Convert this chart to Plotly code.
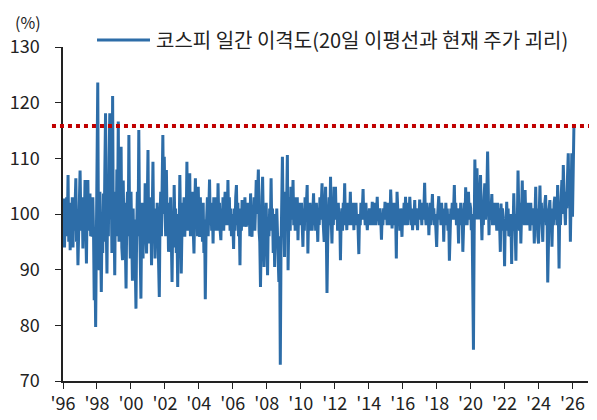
import plotly.graph_objects as go
import pandas as pd

# KOSPI daily disparity (price vs 20-day moving average, %), sampled ~24 points per year
disparity = [
    # 1996
    97, 102.8, 94, 101, 96, 103, 98, 107.0, 95, 102, 93.5, 100, 96, 103, 94, 101, 97, 104, 106.4, 95, 99, 90.8, 98, 103,
    # 1997
    107.8, 100, 97, 103, 93.8, 101, 98, 106.1, 95, 91.1, 102, 106.1, 97, 100, 103.7, 96, 101, 95.9, 103, 97, 84.5, 92, 79.7, 95,
    # 1998
    110, 123.6, 95, 89.9, 104, 97, 86, 99, 93, 103.7, 95, 108, 118.1, 98, 89.3, 104, 96, 110, 118.1, 99, 106, 93, 121.2, 97,
    # 1999
    100, 89, 104, 96, 108, 99, 116.6, 95, 103, 98, 112.1, 94, 91.7, 106, 97, 102, 95, 86.6, 100, 104, 96, 114.2, 99, 92,
    # 2000
    104, 95, 88, 101, 93, 99, 90, 83.0, 97, 104, 96, 115.1, 100, 93, 84.8, 98, 102, 92, 100, 95, 105.5, 97, 92.9, 101.9,
    # 2001
    111.5, 94.7, 103, 97, 100, 90.8, 98, 109.4, 96, 101, 92, 99, 95, 102, 97, 93, 85.1, 99, 104, 96, 106, 114.2, 100, 110.3,
    # 2002
    101, 96, 107.9, 99, 102, 93.2, 100, 97, 103, 95, 87.8, 99, 94, 105.2, 98, 101, 93, 97, 86.9, 100, 95, 107, 98, 89.3,
    # 2003
    97, 102, 99, 103, 95.9, 101, 98, 109.4, 97, 103, 99, 107.3, 96, 102, 98, 104, 97, 92.9, 101, 106.4, 98, 103, 96, 104.9,
    # 2004
    99, 95.9, 103, 97, 101, 95, 102, 93, 99, 84.7, 96, 101, 103, 96, 100, 106.2, 98, 102, 97, 101, 94.7, 103, 99, 97,
    # 2005
    100, 103, 97, 105.5, 99, 102, 97, 95.3, 101, 98, 103, 97, 101, 104, 98, 102, 99, 106.1, 98, 103, 97, 101, 96, 100,
    # 2006
    98, 93.7, 101, 97, 103, 105.2, 98, 102, 96, 99, 90.8, 101, 97, 102.5, 98, 101, 97.7, 103, 99, 97.7, 102, 98, 101, 102,
    # 2007
    96, 103.7, 98, 95.9, 101, 99, 103, 97, 101, 106.1, 100, 104, 108, 97, 95, 86.9, 101, 103, 106.7, 97, 90.5, 100, 95, 102,
    # 2008
    97, 89, 99, 96, 101, 98, 106.4, 97, 101, 93, 99, 90.5, 100, 96, 101, 97, 94, 87.8, 96, 72.9, 93, 104, 110.3, 99,
    # 2009
    101, 92.3, 104, 98, 102, 110.6, 89.9, 99, 103, 97, 104.9, 99, 101, 106.1, 98, 103, 97, 101, 99, 103, 95.3, 101, 98, 102,
    # 2010
    99, 102, 98, 94.1, 101, 97, 103, 99, 102, 105.2, 92.9, 100, 97, 102, 99, 101, 97, 102, 103.7, 98, 101, 97, 102, 99,
    # 2011
    95, 101, 98, 103, 99, 102, 105.5, 100, 97, 95, 101, 104.9, 97, 85.8, 95, 100, 103, 98, 106.7, 99, 94.7, 101, 98, 104.9,
    # 2012
    102, 104.9, 99, 101, 97, 102, 98, 100, 91.7, 99, 101, 97, 102, 100, 105.5, 98, 101, 97.1, 102, 98, 101, 99, 104, 98,
    # 2013
    101, 98, 102, 97.1, 101, 99, 102, 98, 100, 97, 92.8, 100, 98, 102, 99, 101, 104.5, 99, 101, 98, 102, 99, 97.1, 100,
    # 2014
    99, 101, 98, 101, 99, 102.2, 98, 101, 99, 102, 98, 100, 103.1, 99, 101, 98, 101, 99, 95.4, 100, 98, 101, 99, 102.2,
    # 2015
    99, 101, 98, 102, 99, 101, 98, 104.4, 100, 97.4, 101, 99, 102, 98, 100, 92, 104, 100, 98, 101, 97, 101, 99, 95.9,
    # 2016
    101, 99, 102, 98, 103.1, 99, 101, 98, 102, 99, 103.1, 100, 98, 101, 97.1, 101, 99, 102.5, 98, 101, 99, 97.1, 101, 99,
    # 2017
    102.6, 99, 101, 98, 102, 99, 101, 105.6, 100, 98, 102, 99, 101, 96.2, 100, 102, 98, 101, 103.6, 99, 101, 98, 100, 97,
    # 2018
    94.1, 99, 101, 103.2, 99, 101, 98, 102, 99, 101, 95, 100, 98, 102, 99, 101, 97, 100, 91.6, 97, 101, 99, 102, 99,
    # 2019
    101, 105.2, 99, 102, 98, 101, 99, 94.7, 101, 98, 102, 99, 101, 93.2, 99, 102, 98, 104.8, 100, 98, 101, 104, 99, 102,
    # 2020
    101, 97.1, 100, 91.4, 75.6, 96, 109.8, 103, 99, 108.2, 101, 104, 99, 103, 107, 100, 95.3, 101, 98, 103, 105.5, 99, 102, 104,
    # 2021
    111.2, 101, 96.2, 102, 99, 101, 103.6, 98, 101, 99, 102, 98, 100.1, 97, 102, 99, 101, 98, 93.2, 101.9, 97, 101, 99, 98,
    # 2022
    90.6, 99, 97, 102.2, 98, 101, 96, 100, 95.9, 99, 91, 100, 97, 103.7, 99, 97, 91.6, 100, 98, 107.8, 101, 97, 102, 94.7,
    # 2023
    100, 106, 99, 102, 98, 104.3, 99, 101, 98, 102, 99, 100.7, 97, 102, 99, 101, 98, 100, 94.7, 101, 104.9, 98, 101, 96,
    # 2024
    94.7, 100, 105.1, 99, 102, 98, 95, 101, 99, 102, 103.4, 98, 101, 87.7, 99, 101, 102.5, 98, 101, 94.1, 100, 98, 102, 103.1,
    # 2025
    99, 102, 98, 105.2, 100, 90.2, 101, 98, 103, 106.1, 100, 108.8, 104, 101, 98, 104, 101, 107, 110.9, 102, 105, 95, 104, 110.9,
    # 2026
    99.5, 106, 115.7,
]
first_date = "1996-01-03"
last_date = "2026-02-01"
threshold = 115.8

tick_years = list(range(1996, 2027, 2))
tick_labels = ["'96", "'98", "'00", "'02", "'04", "'06", "'08", "'10", "'12",
               "'14", "'16", "'18", "'20", "'22", "'24", "'26"]
series_name = "코스피 일간 이격도(20일 이평선과 현재 주가 괴리)"

dates = pd.date_range(first_date, last_date, periods=len(disparity))
tick_dates = [f"{y}-01-01" for y in tick_years]

line_color = "#2D6DA8"
font_family = "Noto Sans CJK KR, Noto Sans, sans-serif"
text_color = "#222222"

fig = go.Figure()
fig.add_trace(go.Scatter(
    x=dates, y=disparity, mode="lines",
    line=dict(color=line_color, width=3),
    name=series_name, showlegend=False,
))

# threshold dotted line
fig.add_shape(type="line", xref="paper", yref="y",
              x0=-0.021, x1=1.01, y0=threshold, y1=threshold,
              line=dict(color="#C00000", width=4, dash="dot"))

# manual legend
fig.add_shape(type="line", xref="paper", yref="paper",
              x0=0.0648, x1=0.1657, y0=1.021, y1=1.021,
              line=dict(color=line_color, width=3))
fig.add_annotation(xref="paper", yref="paper", x=0.173, y=1.021,
                   xanchor="left", yanchor="middle", showarrow=False,
                   text=series_name,
                   font=dict(family=font_family, size=20, color=text_color))
fig.add_annotation(xref="paper", yref="paper", x=-0.067, y=1.116,
                   xanchor="center", yanchor="top", showarrow=False,
                   text="(%)",
                   font=dict(family=font_family, size=16, color=text_color))

# page body adds an 8px offset; figure is sized to fit the 597x420 window
fig.update_layout(
    width=589, height=412,
    margin=dict(l=55, r=9, t=39, b=39),
    paper_bgcolor="white", plot_bgcolor="white",
    font=dict(family=font_family, size=18, color=text_color),
    showlegend=False,
)
fig.update_xaxes(
    range=["1996-01-01", "2026-12-01"],
    tickvals=tick_dates, ticktext=tick_labels,
    showgrid=False, zeroline=False, automargin=False,
    showline=True, linecolor="#222222", linewidth=1.5,
    ticks="outside", ticklen=6, tickwidth=1.2, tickcolor="#222222",
    tickfont=dict(size=18),
)
fig.update_yaxes(
    range=[70, 130], dtick=10, tick0=70,
    showgrid=False, zeroline=False, automargin=False,
    showline=True, linecolor="#222222", linewidth=1.5,
    ticks="outside", ticklen=6, tickwidth=1.2, tickcolor="#222222",
    tickfont=dict(size=18), ticklabelstandoff=12,
)

fig.write_html("out.html")
